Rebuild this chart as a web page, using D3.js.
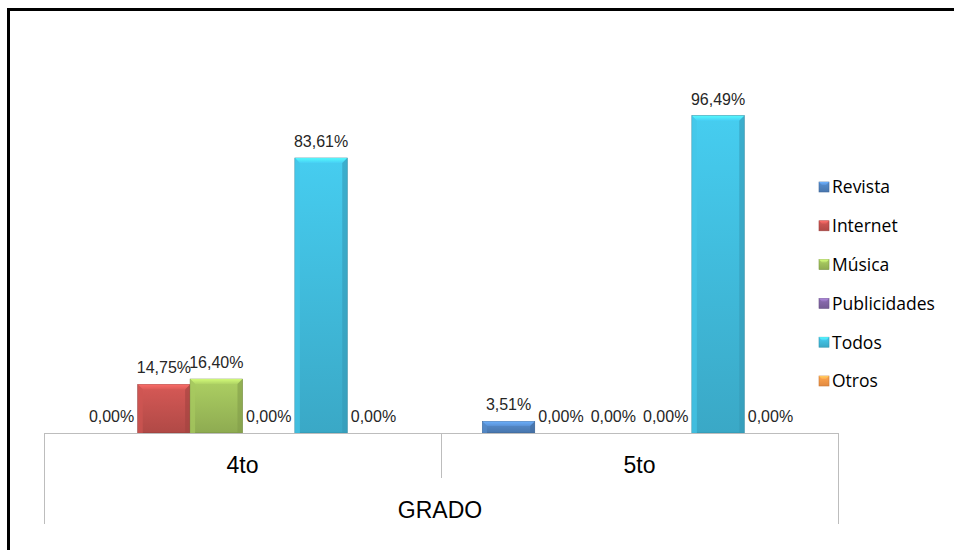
<!DOCTYPE html>
<html>
<head>
<meta charset="utf-8">
<script src="https://cdn.jsdelivr.net/npm/d3@7"></script>
<style>
html,body{margin:0;padding:0;background:#fff;}
svg{display:block;}
</style>
</head>
<body>
<script>
const categories = ["4to", "5to"];
const series = ["Revista", "Internet", "Música", "Publicidades", "Todos", "Otros"];
const values4to = [0.00, 14.75, 16.40, 0.00, 83.61, 0.00];
const values5to = [3.51, 0.00, 0.00, 0.00, 96.49, 0.00];
const colors = ["#4F81BD", "#C0504D", "#9BBB59", "#8064A2", "#3FB8D8", "#F79646"];
const axisTitle = "GRADO";

const W = 954, H = 550;
const svg = d3.select("body").append("svg").attr("width", W).attr("height", H);

// frame (top and left edges)
svg.append("rect").attr("x", 7).attr("y", 8).attr("width", W).attr("height", 3).attr("fill", "#000");
svg.append("rect").attr("x", 7).attr("y", 8).attr("width", 3).attr("height", H).attr("fill", "#000");

const baseY = 433;
const x0 = d3.scaleBand().domain(categories).range([44, 838]);
const x1 = d3.scaleBand().domain(series).range([0, x0.bandwidth()]).paddingInner(0).paddingOuter(0.79);
const y = d3.scaleLinear().domain([0, 100]).range([baseY, baseY - 328.9]);

const data = categories.map((c, i) => ({cat: c, vals: i === 0 ? values4to : values5to}));

const defs = svg.append("defs");
const shade = (c, k) => d3.color(c).brighter(k).formatHex();
colors.forEach((c, i) => {
  const g = defs.append("linearGradient").attr("id", "g" + i).attr("x1", 0).attr("y1", 0).attr("x2", 0).attr("y2", 1);
  g.append("stop").attr("offset", "0%").attr("stop-color", shade(c, 0.3));
  g.append("stop").attr("offset", "100%").attr("stop-color", shade(c, -0.25));
  const h = defs.append("linearGradient").attr("id", "h" + i).attr("x1", 0).attr("y1", 0).attr("x2", 0).attr("y2", 1);
  h.append("stop").attr("offset", "0%").attr("stop-color", shade(c, 0.9));
  h.append("stop").attr("offset", "100%").attr("stop-color", shade(c, 0.35));
});

const font = "'Liberation Sans', Arial, sans-serif";
const groups = svg.selectAll("g.grp").data(data).enter().append("g")
  .attr("transform", d => `translate(${x0(d.cat)},0)`);

groups.each(function(d) {
  const g = d3.select(this);
  d.vals.forEach((v, i) => {
    const bx = x1(series[i]), bw = x1.bandwidth();
    const top = y(v), h = baseY - top;
    if (h > 0) {
      g.append("rect").attr("x", bx).attr("y", top).attr("width", bw).attr("height", h)
        .attr("fill", `url(#g${i})`).attr("stroke", shade(colors[i], -0.9)).attr("stroke-width", 0.6);
      const b = Math.min(5, h / 2.5);
      g.append("path")
        .attr("d", `M${bx},${top}L${bx + bw},${top}L${bx + bw - b},${top + b}L${bx + b},${top + b}Z`)
        .attr("fill", `url(#h${i})`).attr("opacity", 0.9);
      g.append("path")
        .attr("d", `M${bx},${top}L${bx + b},${top + b}L${bx + b},${baseY}L${bx},${baseY}Z`)
        .attr("fill", shade(colors[i], 0.2)).attr("opacity", 0.7);
      g.append("path")
        .attr("d", `M${bx + bw},${top}L${bx + bw - b},${top + b}L${bx + bw - b},${baseY}L${bx + bw},${baseY}Z`)
        .attr("fill", shade(colors[i], -0.5)).attr("opacity", 0.6);
    }
    g.append("text").attr("x", bx + bw / 2).attr("y", top - 11)
      .attr("text-anchor", "middle")
      .attr("font-family", font).attr("font-size", 16)
      .attr("fill", "#262626")
      .text(d3.format(".2f")(v).replace(".", ",") + "%");
  });
});

// category axis box
const axc = "#bdbdbd";
svg.append("line").attr("x1", 44).attr("x2", 838).attr("y1", baseY + 0.5).attr("y2", baseY + 0.5).attr("stroke", axc);
svg.append("line").attr("x1", 44.5).attr("x2", 44.5).attr("y1", baseY).attr("y2", 524).attr("stroke", axc);
svg.append("line").attr("x1", 838.5).attr("x2", 838.5).attr("y1", baseY).attr("y2", 524).attr("stroke", axc);
svg.append("line").attr("x1", x0("5to") + 0.5).attr("x2", x0("5to") + 0.5).attr("y1", baseY).attr("y2", 478).attr("stroke", axc);

svg.selectAll("text.cat").data(categories).enter().append("text")
  .attr("x", d => x0(d) + x0.bandwidth() / 2).attr("y", 473)
  .attr("text-anchor", "middle").attr("font-family", font)
  .attr("font-size", 23).attr("fill", "#000").text(d => d);

svg.append("text").attr("x", 440).attr("y", 518).attr("text-anchor", "middle")
  .attr("font-family", font).attr("font-size", 23).attr("fill", "#000")
  .text(axisTitle);

// legend
const leg = svg.selectAll("g.leg").data(series).enter().append("g")
  .attr("transform", (d, i) => `translate(819,${187 + i * 38.8})`);
leg.append("rect").attr("x", 0).attr("y", -5).attr("width", 10).attr("height", 10)
  .attr("fill", (d, i) => `url(#g${i})`).attr("stroke", (d, i) => shade(colors[i], -0.6)).attr("stroke-width", 0.6);
leg.append("path").attr("d", "M0,-5L10,-5L7,-2L3,-2Z").attr("fill", (d, i) => `url(#h${i})`);
leg.append("text").attr("x", 13).attr("y", 0).attr("dy", "0.36em")
  .attr("font-family", "'Open Sans', 'Noto Sans', sans-serif").attr("font-size", 17.5).attr("fill", "#000")
  .text(d => d);
</script>
</body>
</html>
